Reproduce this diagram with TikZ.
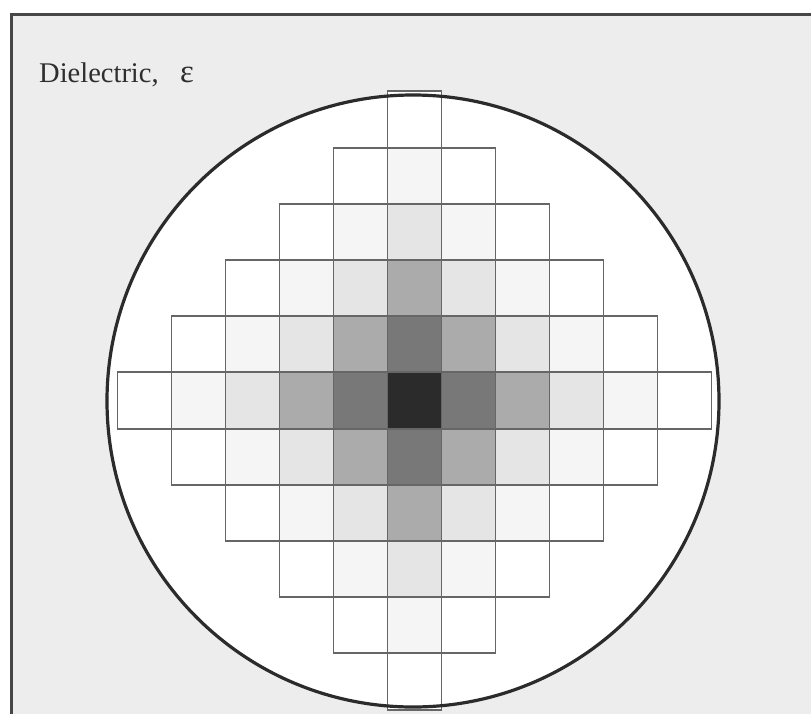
\documentclass[tikz,border=0pt]{standalone}
\usepackage{fontspec}
\setmainfont{Liberation Serif}

\begin{document}
\begin{tikzpicture}[
  x=1pt, y=-1pt,
  frame/.style={draw=black!72, line width=3pt, fill=black!7},
  disc/.style={circle, fill=white, inner sep=0pt, minimum size=612pt},
  rim/.style={disc, fill=none, draw=black!83, line width=3.2pt},
  cell/.style={draw=black!60, line width=1.9pt, inner sep=0pt, outer sep=0pt,
               minimum width=54pt, minimum height=56.2pt},
  title/.style={font=\fontsize{28.5}{30}\selectfont, text=black!82, inner sep=0pt}
]
\useasboundingbox (0,0) rectangle (811,713);
\clip (0,0) rectangle (811,713);
\draw[frame] (11,14) rectangle (840,740);
\node[disc] (disc) at (413,401) {};
\foreach \i in {-5,...,5}
  \foreach \j in {-5,...,5} {
    \pgfmathtruncatemacro\dist{abs(\i)+abs(\j)}
    \ifnum\dist<6
      \pgfmathtruncatemacro\lvl{{83,53,33,10,4,0}[\dist]}
      \node[cell, fill=black!\lvl] (c\i\j) at ({414.5+54*\i},{400.5+56.2*\j}) {};
    \fi
  }
\node[rim] (rim) at (disc.center) {};
\node[title, anchor=base west] (eps) at (39,82) {Dielectric,\hspace{0.75em}\scalebox{1.15}{ε}};
\end{tikzpicture}
\end{document}
